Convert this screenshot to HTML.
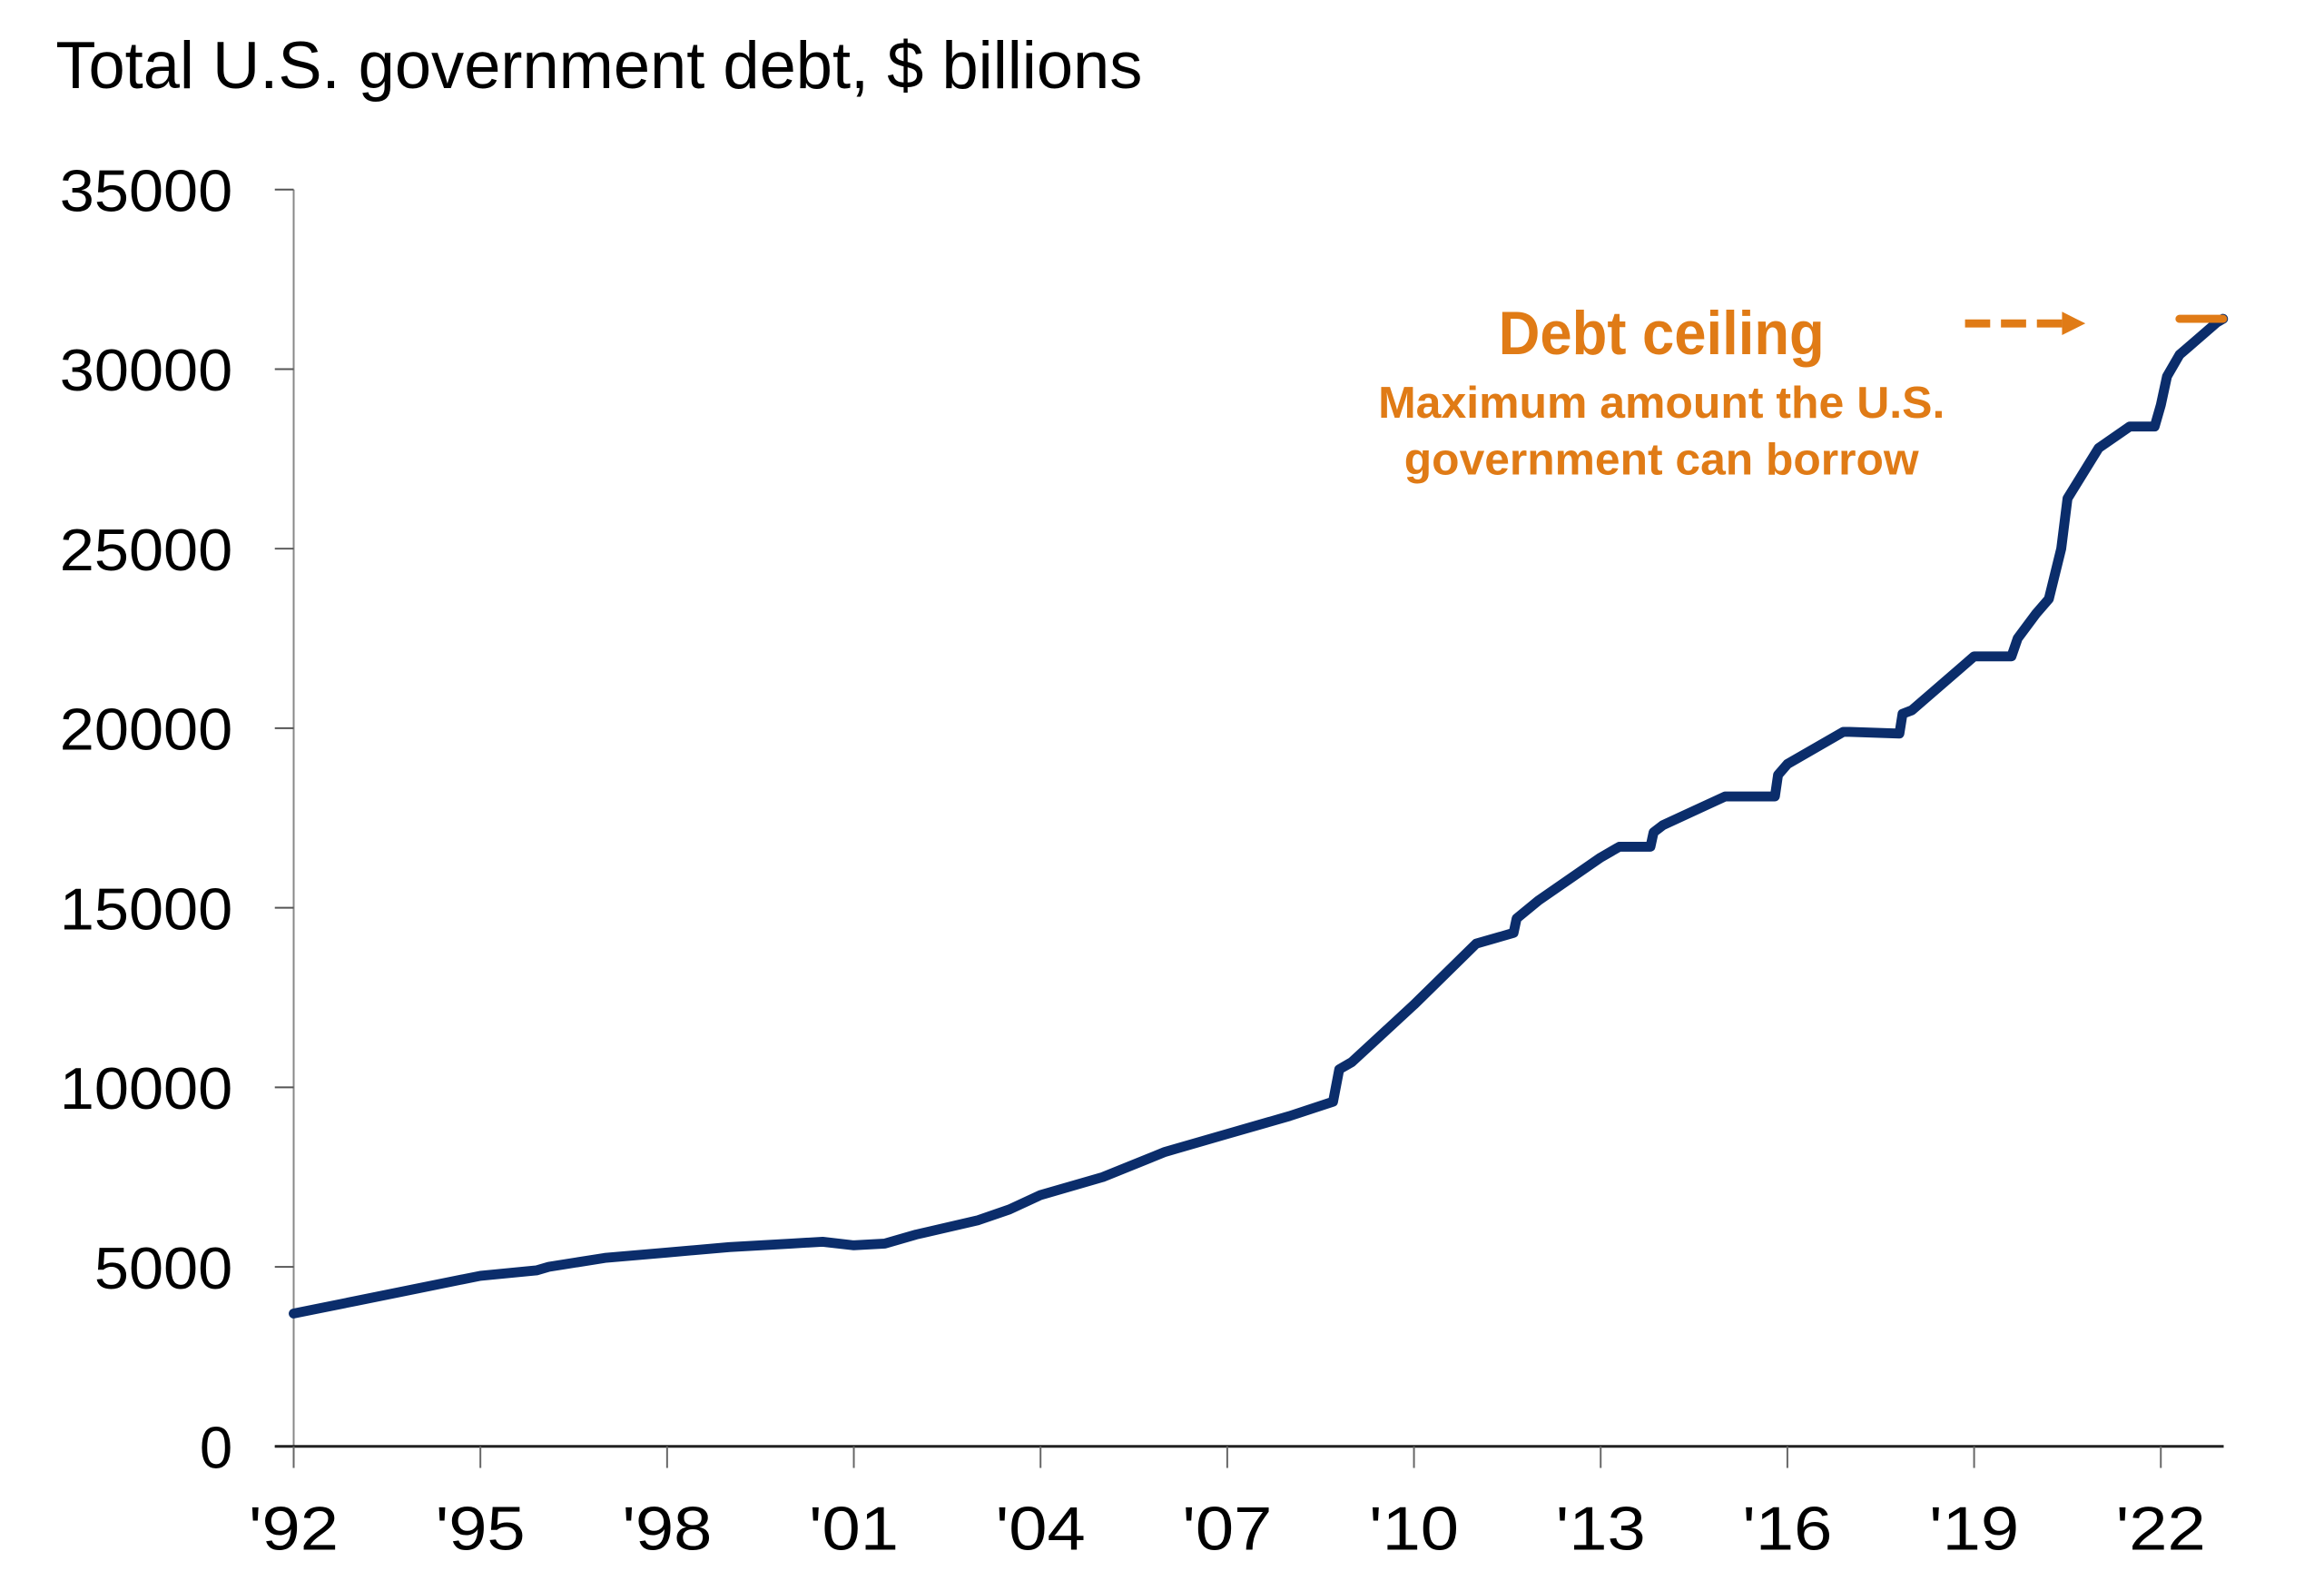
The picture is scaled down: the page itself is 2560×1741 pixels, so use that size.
<!DOCTYPE html>
<html><head><meta charset="utf-8"><style>
html,body{margin:0;padding:0;background:#fff;}
svg{display:block;font-family:"Liberation Sans",sans-serif;}
</style></head><body>
<svg id="chart" width="2560" height="1741" viewBox="0 0 2560 1741" xmlns="http://www.w3.org/2000/svg">
<g transform="scale(0.9893)">
<text x="62" y="98" font-size="74" fill="#000" textLength="1210" lengthAdjust="spacingAndGlyphs">Total U.S. government debt, $ billions</text>
<g id="axes"></g>
<g id="series"></g>
<g fill="#E07B16">
<text x="1850" y="394" font-size="68" font-weight="bold" text-anchor="middle" textLength="363" lengthAdjust="spacingAndGlyphs">Debt ceiling</text>
<text x="1850" y="465" font-size="50" font-weight="bold" text-anchor="middle" textLength="631" lengthAdjust="spacingAndGlyphs">Maximum amount the U.S.</text>
<text x="1850" y="528" font-size="50" font-weight="bold" text-anchor="middle" textLength="573" lengthAdjust="spacingAndGlyphs">government can borrow</text>
<line x1="2188" y1="360" x2="2298" y2="360" stroke="#E07B16" stroke-width="9" stroke-dasharray="28,12"/>
<polygon points="2296,347 2322,360 2296,373" fill="#E07B16"/>
</g>
</g>
</svg>
<script>
const yTicks = [0,5000,10000,15000,20000,25000,30000,35000];
const xTickYears = [1992,1995,1998,2001,2004,2007,2010,2013,2016,2019,2022];
const xTickLabels = ["'92","'95","'98","'01","'04","'07","'10","'13","'16","'19","'22"];
const years = [1992,1993,1994,1995,1995.9,1996.1,1997,1998,1999,2000,2000.5,2001,2001.5,2002,2003,2003.5,2004,2005,2006,2007,2008,2008.7,2008.8,2009,2010,2011,2011.6,2011.65,2012,2013,2013.3,2013.8,2013.85,2014,2015,2015.8,2015.85,2016,2016.9,2017,2017.8,2017.85,2018,2019,2019.6,2019.7,2020,2020.2,2020.4,2020.5,2021,2021.5,2021.9,2022,2022.1,2022.3,2022.9,2023];
const debt = [3700,4050,4400,4750,4900,5000,5250,5400,5550,5650,5700,5600,5650,5900,6300,6600,7000,7500,8200,8700,9200,9600,10500,10700,12300,14000,14300,14700,15200,16400,16700,16700,17100,17300,18100,18100,18700,19000,19900,19900,19850,20400,20500,22000,22000,22500,23200,23600,25000,26400,27800,28400,28400,29000,29800,30400,31300,31400];
const ceiling = 31400;
const ceilingStart = 2022.3;

const NS="http://www.w3.org/2000/svg";
const X0=327, X1=2406, Y0=1610, Y1=211;
const xs = y => X0 + (y-1992)/(2022-1992)*(X1-X0);
const ys = v => Y0 - v/35000*(Y0-Y1);
function mk(tag, attrs, parent){const e=document.createElementNS(NS,tag);for(const k in attrs)e.setAttribute(k,attrs[k]);parent.appendChild(e);return e;}
const axes=document.getElementById('axes');
const yAxis=mk('line',{x1:X0,y1:Y1,x2:X0,y2:Y0,stroke:'#888','stroke-width':2},axes);


yTicks.forEach(v=>{
  const t=mk('line',{x1:X0-21,y1:ys(v),x2:X0,y2:ys(v),stroke:'#555','stroke-width':2},axes);
  
  
  const l=mk('text',{x:259,y:ys(v)+24,'font-size':66,'text-anchor':'end',fill:'#000'},axes);
  
  
  l.textContent=String(v);
  if(String(v).length>1){l.setAttribute('textLength',String(v).length*38.5);l.setAttribute('lengthAdjust','spacingAndGlyphs');}
});
const xAxis=mk('line',{x1:X0-21,y1:Y0,x2:2476,y2:Y0,stroke:'#222','stroke-width':3},axes);


xTickYears.forEach((yr,i)=>{
  const t=mk('line',{x1:xs(yr),y1:Y0,x2:xs(yr),y2:Y0+24,stroke:'#666','stroke-width':2},axes);
  
  
  const l=mk('text',{x:xs(yr),y:1725,'font-size':68,'text-anchor':'middle',fill:'#000',textLength:100,lengthAdjust:'spacingAndGlyphs'},axes);
  
  
  l.textContent=xTickLabels[i];
});
const series=document.getElementById('series');
const pts=years.map((y,i)=>xs(y).toFixed(1)+','+ys(debt[i]).toFixed(1)).join(' ');
const pl=mk('polyline',{points:pts,fill:'none',stroke:'#0B2D6B','stroke-width':11,'stroke-linejoin':'round','stroke-linecap':'round'},series);


const cl=mk('line',{x1:xs(ceilingStart),y1:ys(ceiling),x2:xs(2023),y2:ys(ceiling),stroke:'#E07B16','stroke-width':9,'stroke-linecap':'round'},series);


</script>
</body></html>
